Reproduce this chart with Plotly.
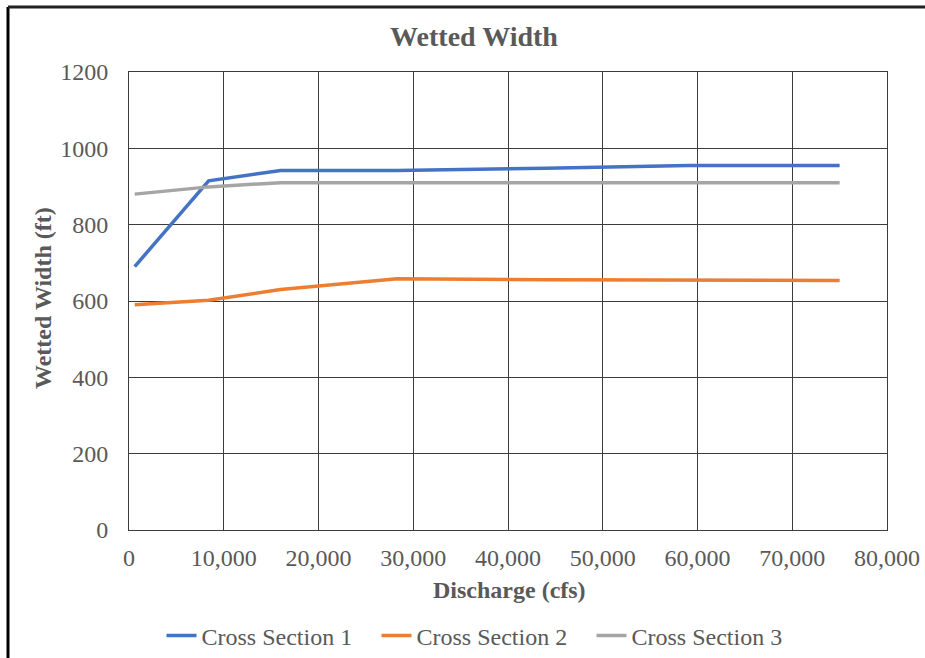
import plotly.graph_objects as go

# Discharge (cfs) at which each cross section was evaluated
discharge = [600, 8400, 16000, 28300, 44000, 59000, 75000]

# Wetted width (ft) per cross section
cross_section_1 = [690, 915, 942, 942, 948, 955, 955]
cross_section_2 = [590, 602, 630, 658, 656, 654, 654]
cross_section_3 = [880, 899, 910, 910, 910, 910, 910]

series_names = ["Cross Section 1", "Cross Section 2", "Cross Section 3"]
series_colors = ["#4472C4", "#ED7D31", "#A5A5A5"]

W, H = 925, 658
L, R, T, B = 129, 925 - 887, 72, 658 - 530
pw, ph = W - L - R, H - T - B

FONT = "Liberation Serif, Times New Roman, serif"
TXT = "#595959"
GRID = "#3c3c3c"

fig = go.Figure()
for name, ys, col in zip(series_names, [cross_section_1, cross_section_2, cross_section_3], series_colors):
    fig.add_trace(go.Scatter(
        x=discharge, y=ys, name=name, mode="lines",
        line=dict(color=col, width=3.5),
    ))

fig.update_layout(
    width=W, height=H,
    margin=dict(l=L, r=R, t=T, b=B, autoexpand=False),
    paper_bgcolor="white", plot_bgcolor="white",
    font=dict(family=FONT, size=24, color=TXT),
    title=dict(
        text="<b>Wetted Width</b>", x=474 / W, xanchor="center",
        y=1 - 36 / H, yanchor="middle", yref="container",
        font=dict(family=FONT, size=28, color=TXT),
    ),
    showlegend=True,
    legend=dict(
        orientation="h", x=(484 - L) / pw, xanchor="center",
        y=(530 - 636) / ph, yanchor="middle",
        font=dict(family=FONT, size=24, color=TXT),
        itemwidth=30, tracegroupgap=0,
        entrywidth=170, entrywidthmode="pixels",
    ),
)

fig.update_xaxes(
    range=[0, 80000], dtick=10000, tickformat=",",
    showgrid=True, gridcolor=GRID, gridwidth=1,
    showline=True, linecolor=GRID, linewidth=1, mirror=True,
    zeroline=False, ticks="", ticklabelstandoff=6, automargin=False,
    tickfont=dict(family=FONT, size=24, color=TXT),
)
fig.update_yaxes(
    range=[0, 1200], dtick=200,
    showgrid=True, gridcolor=GRID, gridwidth=1,
    showline=True, linecolor=GRID, linewidth=1, mirror=True,
    zeroline=False, ticks="", ticklabelstandoff=15, automargin=False,
    tickfont=dict(family=FONT, size=24, color=TXT),
)

# Axis titles
fig.add_annotation(text="<b>Discharge (cfs)</b>", xref="paper", yref="paper",
                   x=(509 - L) / pw, y=(530 - 590) / ph, xanchor="center", yanchor="middle",
                   showarrow=False, font=dict(family=FONT, size=24, color=TXT))
fig.add_annotation(text="<b>Wetted Width (ft)</b>", xref="paper", yref="paper",
                   x=(43 - L) / pw, y=(530 - 298) / ph, xanchor="center", yanchor="middle",
                   textangle=-90, showarrow=False, font=dict(family=FONT, size=24, color=TXT))

# Outer frame lines along the left and top edges of the figure
fig.add_shape(type="line", xref="paper", yref="paper",
              x0=(8 - L) / pw, x1=(8 - L) / pw, y0=(T - 7) / ph + 1, y1=-(B + 5) / ph,
              line=dict(color="black", width=3))
fig.add_shape(type="line", xref="paper", yref="paper",
              x0=(8 - L) / pw, x1=(W + 5 - L) / pw, y0=(T - 7) / ph + 1, y1=(T - 7) / ph + 1,
              line=dict(color="#222222", width=3))

fig.write_html("out.html")
